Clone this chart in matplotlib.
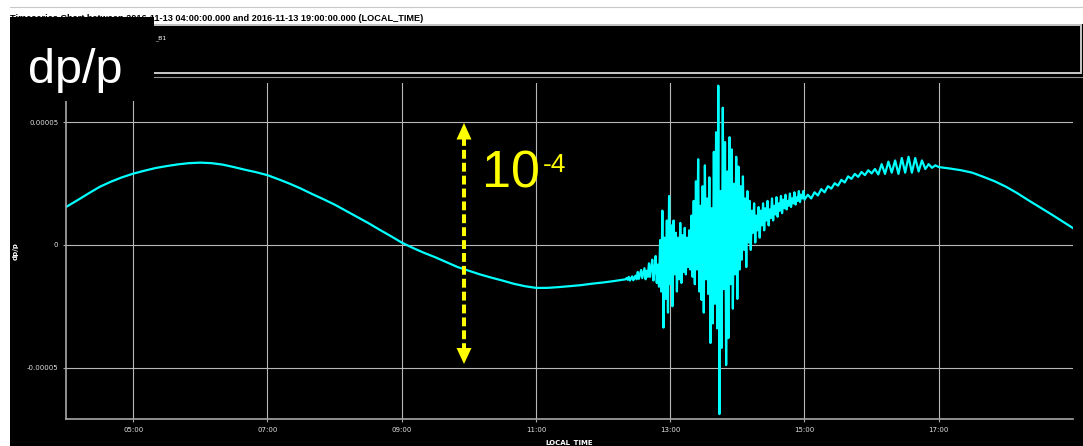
import pandas as pd
import numpy as np
import matplotlib
matplotlib.use("Agg")
import matplotlib.pyplot as plt
import matplotlib.dates as mdates
from matplotlib.patches import Rectangle, Polygon
from matplotlib.lines import Line2D

W, H = 1083, 446

# dp/p values in units of 1e-5
# 04:00 -> 12:20 every 10 min
smooth_am = [1.55, 1.82, 2.10, 2.37, 2.58, 2.76,
             2.91, 3.03, 3.14, 3.22, 3.29, 3.34,
             3.36, 3.34, 3.28, 3.18, 3.07, 2.97,
             2.85, 2.68, 2.50, 2.30, 2.08, 1.87,
             1.65, 1.40, 1.15, 0.90, 0.63, 0.37,
             0.10, -0.12, -0.32, -0.50, -0.70, -0.90,
             -1.05, -1.20, -1.33, -1.45, -1.58, -1.68,
             -1.75, -1.75, -1.72, -1.68, -1.64, -1.58,
             -1.53, -1.47, -1.40]
# 12:21 -> 15:00 every minute (quake)
quake = [-1.35, -1.42, -1.30, -1.45, -1.36, -1.28, -1.44, -1.33, -1.25, -1.40,
         -1.10, -1.38, -1.20, -1.02, -1.35, -1.15, -0.95, -1.40, -1.05, -1.30,
         -0.75, -1.30, -0.90, -0.60, -1.45, -1.00, -0.45, -1.55, -0.80, -1.70,
         0.20, -1.90, 1.40, -3.37, 0.30, -2.20, 1.00, -2.76, 2.00, -1.60,
         0.80, -2.50, 1.00, -1.20, 0.50, -1.90, 0.30, -1.40, 0.90, -1.55,
         0.40, -1.10, 0.70, -1.20, 0.30, -0.90, 0.60, -1.00, 1.20, -1.30,
         1.80, -1.60, 2.60, -1.00, 3.50, -1.90, 1.60, -2.24, 2.40, -2.76,
         3.25, -1.40, 1.90, -2.00, 2.76, -4.00, 1.50, -3.20, 3.80, -2.40,
         4.60, -3.40, 6.50, -6.90, 2.20, -4.20, 5.60, -1.80, 4.20, -4.90,
         3.00, -3.80, 4.40, -1.60, 3.90, -2.60, 2.50, -1.20, 3.60, -2.20,
         3.20, -1.00, 2.40, -0.60, 2.80, -0.20, 1.90, -0.90, 2.20, 0.10,
         1.80, -0.20, 1.40, 0.50, 1.70, 0.10, 1.20, 0.60, 1.55, 0.30,
         1.40, 0.80, 1.70, 0.60, 1.50, 1.00, 1.80, 0.80, 1.45, 1.10,
         1.90, 1.00, 1.60, 1.25, 1.95, 1.15, 1.70, 1.40, 2.00, 1.30,
         1.85, 1.50, 2.05, 1.45, 1.80, 1.60, 2.10, 1.55, 1.90, 1.70,
         2.15, 1.65, 1.95, 1.80, 2.20, 1.75, 2.05, 1.90, 2.20, 1.85]
# 15:03 -> 17:00 every 3 min
after = [2.05, 1.90, 2.15, 2.02, 2.28, 2.15, 2.40, 2.30, 2.52, 2.42,
         2.66, 2.55, 2.80, 2.70, 2.90, 2.78, 2.98, 2.85, 3.05, 2.92,
         3.10, 2.88, 3.30, 2.90, 3.40, 2.95, 3.45, 2.90, 3.55, 2.95,
         3.60, 2.95, 3.55, 3.00, 3.45, 3.10, 3.30, 3.15, 3.25, 3.18]
# 17:10 -> 19:00 every 10 min
smooth_pm = [3.12, 3.05, 2.95, 2.78, 2.60, 2.38, 2.12, 1.83, 1.55, 1.27, 0.98, 0.69]

day = "2016-11-13 "
t = (list(pd.date_range(day + "04:00", day + "12:20", freq="10min"))
     + list(pd.date_range(day + "12:21", day + "15:00", freq="1min"))
     + list(pd.date_range(day + "15:03", day + "17:00", freq="3min"))
     + list(pd.date_range(day + "17:10", day + "19:00", freq="10min")))
v = np.array(smooth_am + quake + after + smooth_pm) * 1e-5

title = "Timeseries Chart between 2016-11-13 04:00:00.000 and 2016-11-13 19:00:00.000 (LOCAL_TIME)"
yticks = [-5e-5, 0, 5e-5]
ytick_labels = ["-0.00005", "0", "0.00005"]


def fx(px):
    return px / W


def fy(py):
    return 1 - py / H


fig = plt.figure(figsize=(W / 100, H / 100), dpi=100, facecolor="white")

# black chart panel
fig.add_artist(Rectangle((fx(10), 0), fx(1073), 1 - 24 / H, transform=fig.transFigure,
                         facecolor="black", edgecolor="none", zorder=-1))
fig.add_artist(Line2D([fx(10), fx(1083)], [fy(7), fy(7)], color="#c8c8c8", lw=0.8,
                      transform=fig.transFigure, zorder=0))
fig.text(fx(10), fy(21), title, fontsize=6.6, fontweight="bold", family="Liberation Sans",
         color="black", va="baseline", ha="left", zorder=1)

# legend box
fig.add_artist(Rectangle((fx(12), fy(73)), fx(1069), 48 / H, transform=fig.transFigure,
                         facecolor="black", edgecolor="#c8c8c8", lw=1.4, zorder=0))
fig.add_artist(Line2D([fx(10), fx(1083)], [fy(76.5), fy(76.5)], color="#909090", lw=0.8,
                      transform=fig.transFigure, zorder=0))
fig.text(fx(155), fy(39), "_B1", fontsize=4.5, color="white", va="baseline", ha="left", zorder=1)

ax = fig.add_axes([fx(66), fy(419), fx(1007), 336 / H])
ax.set_facecolor("black")
ax.plot(t, v, color="#00ffff", lw=1.6)

ax.set_xlim(pd.Timestamp(day + "04:00"), pd.Timestamp(day + "19:00"))
ax.set_ylim(-7.10e-5, 6.61e-5)
ax.xaxis.set_major_locator(mdates.HourLocator(byhour=range(5, 18, 2)))
ax.xaxis.set_major_formatter(mdates.DateFormatter("%H:%M"))
ax.set_yticks(yticks)
ax.set_yticklabels(ytick_labels)
ax.grid(True, color="#b8b8b8", lw=0.8)
ax.set_axisbelow(True)
for s in ["top", "right"]:
    ax.spines[s].set_visible(False)
for s in ["left", "bottom"]:
    ax.spines[s].set_color("#a8a8a8")
    ax.spines[s].set_linewidth(1.2)
ax.tick_params(colors="#a8a8a8", labelcolor="#e0e0e0", labelsize=5, length=2.5, pad=3)
ax.set_xlabel("LOCAL_TIME", fontsize=5, fontweight="bold", color="white")
ax.xaxis.set_label_coords(0.5, -0.06)
ax.set_ylabel("dp/p", fontsize=5, fontweight="bold", color="white")
ax.yaxis.set_label_coords((19 - 66) / 1007, 0.5)

# overlay annotations
fig.add_artist(Rectangle((fx(10), fy(101)), fx(144), 84 / H, transform=fig.transFigure,
                         facecolor="black", edgecolor="none", zorder=2))
fig.text(fx(28), fy(83), "dp/p", fontsize=35, family="Liberation Sans", color="white",
         va="baseline", ha="left", zorder=3)

yel = "#ffff00"
fig.add_artist(Line2D([fx(464), fx(464)], [fy(137), fy(350)], color=yel, lw=2.9,
                      linestyle=(0, (2.2, 1.0)), transform=fig.transFigure, zorder=3))
fig.add_artist(Polygon([(fx(464), fy(123)), (fx(456.5), fy(139.5)), (fx(471.5), fy(139.5))],
                       closed=True, facecolor=yel, edgecolor="none", transform=fig.transFigure, zorder=3))
fig.add_artist(Polygon([(fx(464), fy(364)), (fx(456.5), fy(348)), (fx(471.5), fy(348))],
                       closed=True, facecolor=yel, edgecolor="none", transform=fig.transFigure, zorder=3))
fig.text(fx(482), fy(188), "10", fontsize=37.5, family="Liberation Sans", color=yel,
         va="baseline", ha="left", zorder=3)
fig.text(fx(543), fy(172), "-4", fontsize=19, family="Liberation Sans", color=yel,
         va="baseline", ha="left", zorder=3)

fig.savefig("out.png", dpi=100, facecolor="white")
